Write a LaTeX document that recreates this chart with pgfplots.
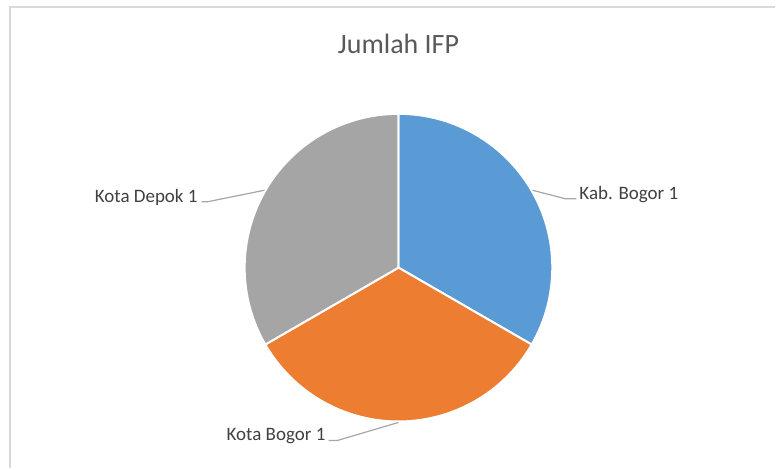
\documentclass[border=0pt]{standalone}
\usepackage{pgfplots}
\pgfplotsset{compat=1.18}
\usetikzlibrary{calc}
\usepackage{fontspec}
\setmainfont{Carlito}
\definecolor{pieblue}{HTML}{5B9BD5}
\definecolor{pieorange}{HTML}{ED7D31}
\definecolor{piegray}{HTML}{A5A5A5}
\definecolor{framegray}{HTML}{D9D9D9}
\definecolor{leadergray}{HTML}{A6A6A6}
\definecolor{labelcol}{HTML}{404040}
\definecolor{titlecol}{HTML}{595959}
% data: Kab. Bogor, Kota Bogor, Kota Depok
\def\va{1}\def\vb{1}\def\vc{1}
\pgfmathsetmacro\total{\va+\vb+\vc}
\pgfmathsetmacro\aA{90}
\pgfmathsetmacro\aB{\aA-360*\va/\total}
\pgfmathsetmacro\aC{\aB-360*\vb/\total}
\pgfmathsetmacro\aD{\aC-360*\vc/\total}
\pgfmathsetmacro\mA{(\aA+\aB)/2}
\pgfmathsetmacro\mB{(\aB+\aC)/2}
\pgfmathsetmacro\mC{(\aC+\aD)/2}
\def\R{154pt}
\begin{document}
\begin{tikzpicture}
\begin{axis}[
  width=776pt, height=469pt, scale only axis,
  xmin=0, xmax=776, ymin=0, ymax=469,
  hide axis, clip=false,
]
\addplot[draw=none] coordinates {(0,0) (776,469)};
% frame
\draw[framegray, line width=2pt] (axis cs:10,0) -- (axis cs:10,461.5) -- (axis cs:776,461.5);
% title
\node[titlecol, font=\fontsize{28}{32}\selectfont, anchor=base] at (axis cs:399,415) {Jumlah IFP};
% wedges
\fill[pieblue, draw=white, line width=2pt] (axis cs:399,201) -- ++(\aA:\R) arc[start angle=\aA, end angle=\aB, radius=\R] -- cycle;
\fill[pieorange, draw=white, line width=2pt] (axis cs:399,201) -- ++(\aB:\R) arc[start angle=\aB, end angle=\aC, radius=\R] -- cycle;
\fill[piegray, draw=white, line width=2pt] (axis cs:399,201) -- ++(\aC:\R) arc[start angle=\aC, end angle=\aD, radius=\R] -- cycle;
% leaders
\draw[leadergray, line width=1.2pt] ($(axis cs:399,201)+(\mA:155pt)$) -- (axis cs:566,270) -- (axis cs:577,270);
\draw[leadergray, line width=1.2pt] ($(axis cs:399,201)+(\mB:155pt)$) -- (axis cs:338,28) -- (axis cs:329,28);
\draw[leadergray, line width=1.2pt] ($(axis cs:399,201)+(\mC:155pt)$) -- (axis cs:208,267) -- (axis cs:202,267);
% labels
\node[labelcol, font=\fontsize{19}{22}\selectfont, anchor=base west, inner sep=0pt] at (axis cs:580,269) {Kab. Bogor 1};
\node[labelcol, font=\fontsize{19}{22}\selectfont, anchor=base east, inner sep=0pt] at (axis cs:326,28) {Kota Bogor 1};
\node[labelcol, font=\fontsize{19}{22}\selectfont, anchor=base east, inner sep=0pt] at (axis cs:198,266) {Kota Depok 1};
\end{axis}
\end{tikzpicture}
\end{document}
